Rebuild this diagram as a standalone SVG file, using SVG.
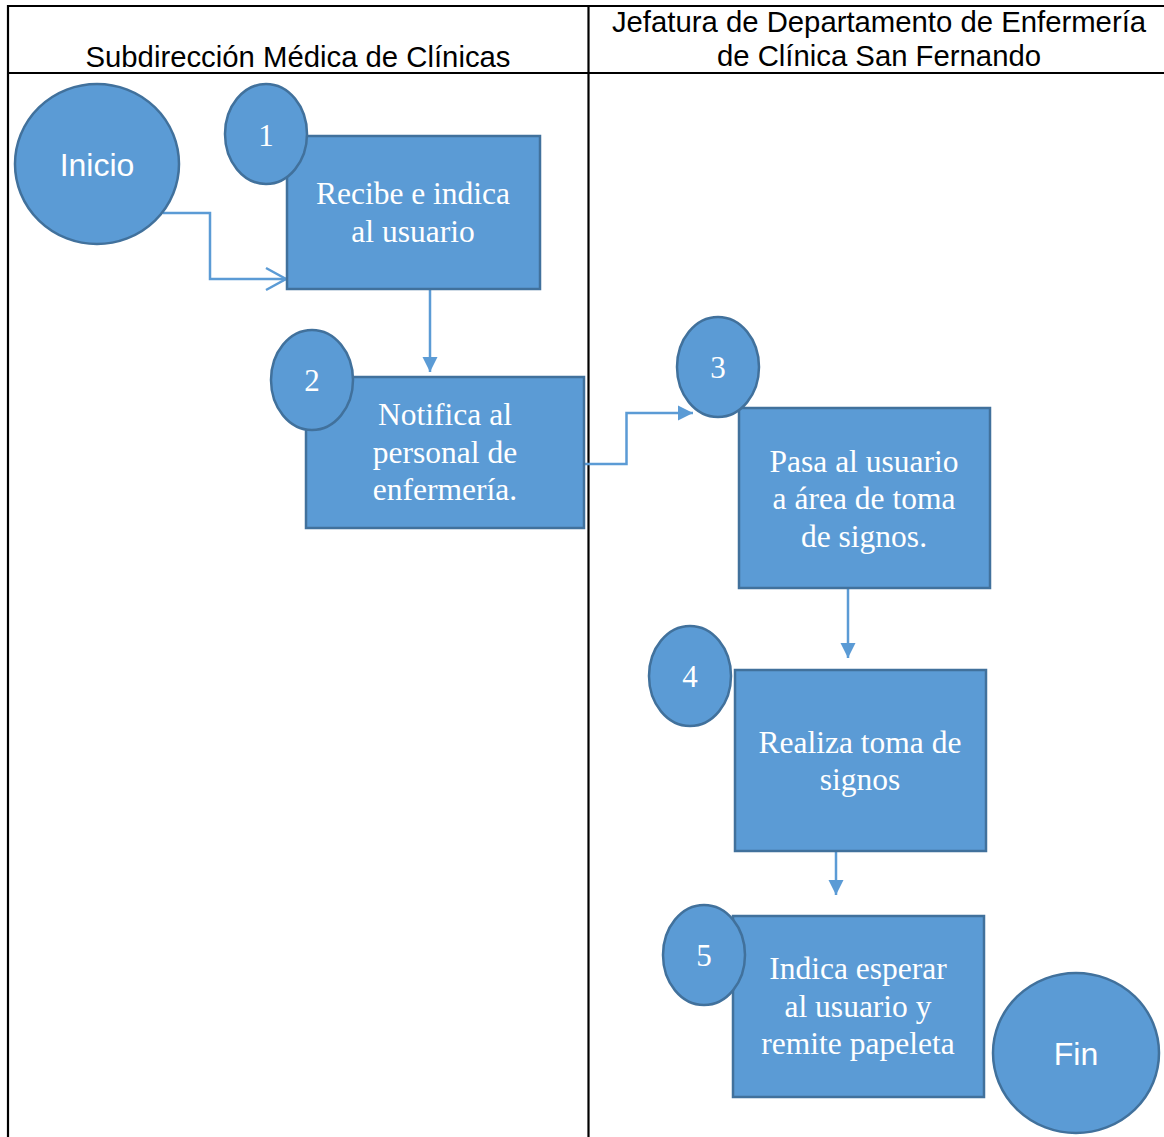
<svg xmlns="http://www.w3.org/2000/svg" width="1164" height="1137" viewBox="0 0 1164 1137">
<style>
.grid{stroke:#000;stroke-width:2.2;fill:none}
.hdr{font-family:"Liberation Sans",Arial,sans-serif;font-size:29.3px;fill:#000;text-anchor:middle}
.box{fill:#5B9BD5;stroke:#41719C;stroke-width:2.5}
.num{font-family:"Liberation Serif","Times New Roman",serif;font-size:31px;fill:#fff;text-anchor:middle}
.lbl{font-family:"Liberation Serif","Times New Roman",serif;font-size:31.5px;fill:#fff;text-anchor:middle}
.term{font-family:"Liberation Sans",Arial,sans-serif;font-size:32px;fill:#fff;text-anchor:middle}
.conn{stroke:#5B9BD5;stroke-width:2.5;fill:none}
</style>
<defs>
<marker id="tri" markerUnits="userSpaceOnUse" markerWidth="16" markerHeight="16" viewBox="0 0 16 16" refX="15" refY="8" orient="auto">
<path d="M0,0.5 L15,8 L0,15.5 Z" fill="#5B9BD5"/>
</marker>
<marker id="open" markerUnits="userSpaceOnUse" markerWidth="24" markerHeight="26" viewBox="0 0 24 26" refX="21" refY="13" orient="auto">
<path d="M1,2 L21,13 L1,24" fill="none" stroke="#5B9BD5" stroke-width="2.5"/>
</marker>
</defs>
<rect x="0" y="0" width="1164" height="1137" fill="#fff"/>
<g id="table">
<line class="grid" x1="8" y1="6" x2="1164" y2="6"/>
<line class="grid" x1="8" y1="73" x2="1164" y2="73"/>
<line class="grid" x1="8" y1="5" x2="8" y2="1137"/>
<line class="grid" x1="588.5" y1="5" x2="588.5" y2="1137"/>
<text class="hdr" x="298" y="67">Subdirección Médica de Clínicas</text>
<text class="hdr" x="879" y="32">Jefatura de Departamento de Enfermería</text>
<text class="hdr" x="879" y="66">de Clínica San Fernando</text>
</g>
<g id="connectors">
<path class="conn" d="M163,213 H210 V279 H286" marker-end="url(#open)"/>
<path class="conn" d="M430,289 V372" marker-end="url(#tri)"/>
<path class="conn" d="M584,464 H626.5 V413 H693" marker-end="url(#tri)"/>
<path class="conn" d="M848,588 V658" marker-end="url(#tri)"/>
<path class="conn" d="M836,851 V895" marker-end="url(#tri)"/>
</g>
<g id="inicio">
<ellipse class="box" cx="97" cy="164" rx="82" ry="80"/>
<text class="term" x="97" y="176">Inicio</text>
</g>
<g id="step1">
<rect class="box" x="287" y="136" width="253" height="153"/>
<ellipse class="box" cx="266" cy="134" rx="41" ry="50"/>
<text class="num" x="266" y="146">1</text>
<text class="lbl" x="413" y="204">Recibe e indica</text>
<text class="lbl" x="413" y="242">al usuario</text>
</g>
<g id="step2">
<rect class="box" x="306" y="377" width="278" height="151"/>
<ellipse class="box" cx="312" cy="380" rx="41" ry="50"/>
<text class="num" x="312" y="391">2</text>
<text class="lbl" x="445" y="425">Notifica al</text>
<text class="lbl" x="445" y="463">personal de</text>
<text class="lbl" x="445" y="500">enfermería.</text>
</g>
<g id="step3">
<rect class="box" x="739" y="408" width="251" height="180"/>
<ellipse class="box" cx="718" cy="367" rx="41" ry="50"/>
<text class="num" x="718" y="378">3</text>
<text class="lbl" x="864" y="472">Pasa al usuario</text>
<text class="lbl" x="864" y="509">a área de toma</text>
<text class="lbl" x="864" y="547">de signos.</text>
</g>
<g id="step4">
<rect class="box" x="735" y="670" width="251" height="181"/>
<ellipse class="box" cx="690" cy="676" rx="41" ry="50"/>
<text class="num" x="690" y="687">4</text>
<text class="lbl" x="860" y="753">Realiza toma de</text>
<text class="lbl" x="860" y="790">signos</text>
</g>
<g id="step5">
<rect class="box" x="733" y="916" width="251" height="181"/>
<ellipse class="box" cx="704" cy="955" rx="41" ry="50"/>
<text class="num" x="704" y="966">5</text>
<text class="lbl" x="858" y="979">Indica esperar</text>
<text class="lbl" x="858" y="1017">al usuario y</text>
<text class="lbl" x="858" y="1054">remite papeleta</text>
</g>
<g id="fin">
<ellipse class="box" cx="1076" cy="1053" rx="83" ry="80"/>
<text class="term" x="1076" y="1065">Fin</text>
</g>
</svg>
